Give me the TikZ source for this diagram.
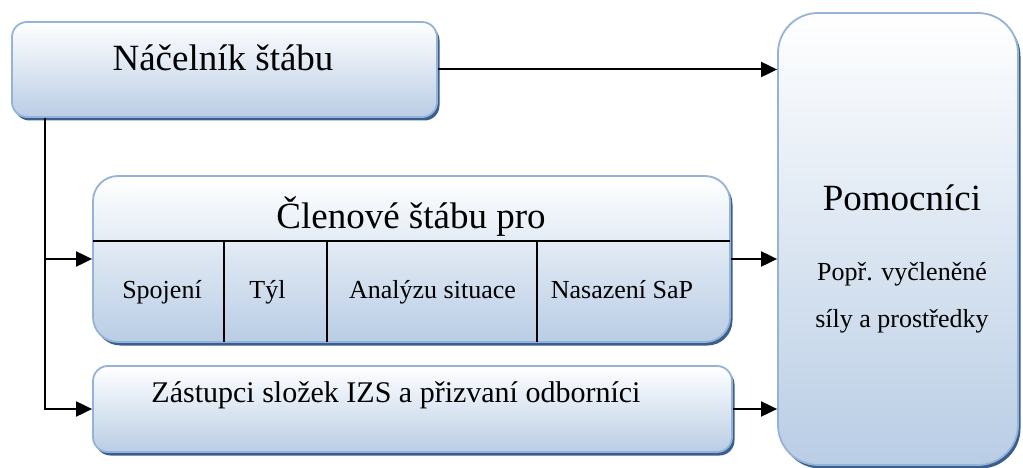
\documentclass[tikz,border=0pt]{standalone}
\usepackage{fontspec}
\newfontfamily\diagramfont{Liberation Serif}
\usetikzlibrary{positioning, shadows, arrows.meta, calc}
\definecolor{boxtop}{HTML}{FFFFFF}
\definecolor{boxbottom}{HTML}{B9CDE5}
\definecolor{boxline}{HTML}{95B3D7}
\definecolor{boxshade}{HTML}{3A5F8E}
\tikzset{
	panel/.style={draw=boxline, line width=1.8pt, top color=boxtop, bottom color=boxbottom,
		rounded corners=#1, inner sep=0pt,
		drop shadow={shadow xshift=2.5pt, shadow yshift=-3.5pt, fill=boxshade, opacity=1}},
	bigtext/.style={font=\diagramfont\fontsize{37}{41}\selectfont, anchor=base, inner sep=0pt},
	midtext/.style={font=\diagramfont\fontsize{30}{34}\selectfont, anchor=base, inner sep=0pt},
	smalltext/.style={font=\diagramfont\fontsize{26}{30}\selectfont, anchor=base, inner sep=0pt},
	feed/.style={line width=2pt, -{Triangle[length=16pt, width=15pt]}}
}
\begin{document}
\begin{tikzpicture}[x=1pt, y=-1pt]
		\useasboundingbox (0,0) rectangle (1023,468);
		\node[panel=15pt, minimum width=425pt, minimum height=95pt] (chief) at (224.5,69.5) {};
		\node[panel=25pt, minimum width=637pt, minimum height=166pt] (members) at (411.5,259) {};
		\node[panel=15pt, minimum width=639pt, minimum height=86pt] (deputies) at (412.5,409) {};
		\node[panel=40pt, minimum width=240pt, minimum height=452pt] (helpers) at (898,239) {};
		\node[bigtext] (chieftext) at (223,71) {Náčelník štábu};
		\node[bigtext] (memberstext) at (411,228) {Členové štábu pro};
		\node[midtext] (deputiestext) at (396,402) {Zástupci složek IZS a přizvaní odborníci};
		\node[bigtext] (helperstext) at (902,210) {Pomocníci};
		\node[smalltext] (helpersnote) at (902,280) {Popř. vyčleněné};
		\node[smalltext] (helpersnotetwo) at (902,327) {síly a prostředky};
		\draw[line width=1.2pt] (93,241) -- (730,241);
		\draw[line width=1.2pt] (224,241) -- (224,342);
		\draw[line width=1.2pt] (327,241) -- (327,342);
		\draw[line width=1.2pt] (537,241) -- (537,342);
		\node[smalltext] (link) at (162,298) {Spojení};
		\node[smalltext] (rear) at (267.5,298) {Týl};
		\node[smalltext] (analysis) at (432.5,298) {Analýzu situace};
		\node[smalltext] (deploy) at (622,298) {Nasazení SaP};
		\coordinate (trunk) at (45,118);
		\draw[feed] (chief.east) -- (chief.east -| helpers.west);
		\draw[feed] (members.east) -- (members.east -| helpers.west);
		\draw[feed] (deputies.east) -- (deputies.east -| helpers.west);
		\draw[line width=2pt] (trunk) -- (trunk |- deputies.west);
		\draw[feed] (trunk) |- (members.west);
		\draw[feed] (trunk) |- (deputies.west);
\end{tikzpicture}
\end{document}
